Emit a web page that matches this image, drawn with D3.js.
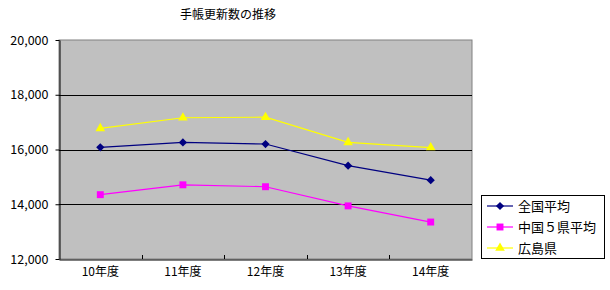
<!DOCTYPE html>
<html>
<head>
<meta charset="utf-8">
<script src="https://cdn.jsdelivr.net/npm/d3@7"></script>
<style>
  body { margin: 0; background: #fff; }
  text { font-family: "Noto Sans CJK JP", "Noto Sans", sans-serif; fill: #000; }
</style>
</head>
<body>
<svg id="chart" width="610" height="290"></svg>
<script>
// data
const years = ["10年度", "11年度", "12年度", "13年度", "14年度"]
const national = [16080, 16260, 16200, 15410, 14880]
const chugoku = [14350, 14710, 14640, 13940, 13350]
const hiroshima = [16770, 17160, 17180, 16260, 16070]
const yTicks = [12000, 14000, 16000, 18000, 20000]

// rotate 45 turns the square into a wide diamond like the reference
const series = [
  { name: "全国平均", values: national, color: "#000080", shape: d3.symbolSquare, size: 34, rot: 45 },
  { name: "中国５県平均", values: chugoku, color: "#ff00ff", shape: d3.symbolSquare, size: 48, rot: 0 },
  { name: "広島県", values: hiroshima, color: "#ffff00", shape: d3.symbolTriangle, size: 40, rot: 0 }
]

const plot = { left: 59, right: 472, top: 40, bottom: 259 }

// scales
const x = d3.scaleBand().domain(years).range([plot.left, plot.right])
const y = d3.scaleLinear().domain([12000, 20000]).range([plot.bottom, plot.top])

const svg = d3.select("#chart")

// title
svg.append("text")
  .attr("x", 228).attr("y", 19)
  .attr("text-anchor", "middle")
  .attr("font-size", 12)
  .text("手帳更新数の推移")

// plot area
svg.append("rect")
  .attr("x", plot.left).attr("y", plot.top)
  .attr("width", plot.right - plot.left).attr("height", plot.bottom - plot.top)
  .attr("fill", "#c0c0c0").attr("stroke", "#808080")

// gridlines
svg.append("g")
  .selectAll("line")
  .data(yTicks.slice(1, -1)).enter()
  .append("line")
  .attr("x1", plot.left).attr("x2", plot.right)
  .attr("y1", d => Math.round(y(d)) + 0.5).attr("y2", d => Math.round(y(d)) + 0.5)
  .attr("stroke", "#000")

// y axis
const yAxis = svg.append("g")
  .attr("transform", `translate(${plot.left + 0.5},0)`)
  .call(d3.axisLeft(y).tickValues(yTicks).tickSize(4).tickSizeOuter(0).tickFormat(d3.format(",")))
yAxis.select(".domain").attr("stroke", "#000")
yAxis.selectAll("text").attr("font-size", 12.5).attr("x", -11)

// x axis
const xAxis = svg.append("g")
  .attr("transform", `translate(0,${plot.bottom + 0.5})`)
  .call(d3.axisBottom(x).tickSize(0).tickSizeOuter(0))
xAxis.select(".domain").attr("stroke", "#000")
xAxis.selectAll("text").attr("font-size", 12).attr("dy", "1.15em")

// category separator ticks inside
svg.append("g")
  .selectAll("line")
  .data(years.slice(1)).enter()
  .append("line")
  .attr("x1", d => Math.round(x(d)) + 0.5).attr("x2", d => Math.round(x(d)) + 0.5)
  .attr("y1", plot.bottom).attr("y2", plot.bottom - 4)
  .attr("stroke", "#000")

// lines and markers
const line = d3.line()
  .x((d, i) => x(years[i]) + x.bandwidth() / 2)
  .y(d => y(d))

for (const s of series) {
  svg.append("path")
    .datum(s.values)
    .attr("d", line)
    .attr("fill", "none")
    .attr("stroke", s.color)
    .attr("stroke-width", 1.2)

  svg.append("g")
    .selectAll("path")
    .data(s.values).enter()
    .append("path")
    .attr("transform", (d, i) => `translate(${x(years[i]) + x.bandwidth() / 2},${y(d)}) rotate(${s.rot})`)
    .attr("d", d3.symbol().type(s.shape).size(s.size))
    .attr("fill", s.color)
}

// legend
const legend = svg.append("g")
legend.append("rect")
  .attr("x", 481.5).attr("y", 195.5).attr("width", 123).attr("height", 63)
  .attr("fill", "#fff").attr("stroke", "#000")

const item = legend.selectAll("g.item")
  .data(series).enter()
  .append("g")
  .attr("transform", (d, i) => `translate(0,${206 + i * 21})`)

item.append("line")
  .attr("x1", 487).attr("x2", 513)
  .attr("stroke", d => d.color).attr("stroke-width", 1.2)
item.append("path")
  .attr("transform", d => `translate(500,0) rotate(${d.rot})`)
  .attr("d", d => d3.symbol().type(d.shape).size(d.size)())
  .attr("fill", d => d.color)
item.append("text")
  .attr("x", 518).attr("dy", "0.36em")
  .attr("font-size", 13)
  .text(d => d.name)
</script>
</body>
</html>
